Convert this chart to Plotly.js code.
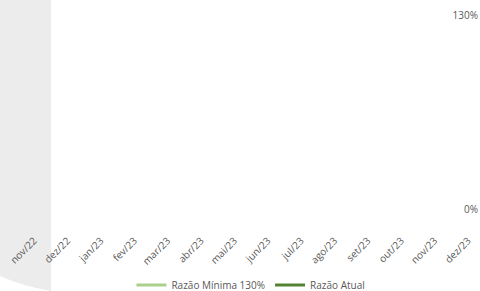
<!DOCTYPE html>
<html>
<head>
<meta charset="utf-8">
<script src="https://cdn.plot.ly/plotly-3.0.1.min.js"></script>
<style>html,body{margin:0;padding:0;background:#fff;}#chart{width:480px;height:291px;}</style>
</head>
<body>
<div id="chart"></div>
<script>
// Categories (months)
var months = ["nov/22","dez/22","jan/23","fev/23","mar/23","abr/23","mai/23","jun/23","jul/23","ago/23","set/23","out/23","nov/23","dez/23"];
// Series values (no values shown in the reference)
var razaoMinima = [null,null,null,null,null,null,null,null,null,null,null,null,null,null];
var razaoAtual  = [null,null,null,null,null,null,null,null,null,null,null,null,null,null];
// Y tick values / labels
var yTickVals = [0, 1.3];
var yTickText = ["0%", "130%"];

var W = 480, H = 291;
var mL = 0, mR = 2, mT = 5, mB = 59;
var pw = W - mL - mR, ph = H - mT - mB;
function px(x){ return (x - mL) / pw; }
function py(y){ return (H - mB - y) / ph; }

var greyPath = "M " + px(0) + "," + py(0) +
  " L " + px(51) + "," + py(0) +
  " L " + px(51) + "," + py(291) +
  " Q " + px(22) + "," + py(286) + " " + px(0) + "," + py(276) + " Z";

var traces = [
  {x: months, y: razaoMinima, type: "scatter", mode: "lines", name: "Razão Mínima 130%",
   line: {color: "#a9d18e", width: 3}},
  {x: months, y: razaoAtual, type: "scatter", mode: "lines", name: "Razão Atual",
   line: {color: "#548235", width: 3}}
];

var layout = {
  width: W, height: H,
  margin: {l: mL, r: mR, t: mT, b: mB, pad: 0, autoexpand: false},
  paper_bgcolor: "#ffffff",
  plot_bgcolor: "rgba(0,0,0,0)",
  font: {family: "Open Sans, Liberation Sans, sans-serif", size: 10, color: "#595959"},
  showlegend: true,
  legend: {orientation: "h", x: 0.525, xanchor: "center", yref: "container", y: (H - 285) / H,
           yanchor: "middle", font: {size: 10, color: "#595959"}, bgcolor: "rgba(0,0,0,0)"},
  xaxis: {type: "category", categoryorder: "array", categoryarray: months,
          range: [-1.02, 13.30], tickangle: -45, showgrid: false, zeroline: false,
          showline: false, ticks: "", tickfont: {size: 10, color: "#595959"}, fixedrange: true},
  yaxis: {range: [-0.154, 1.367], tickvals: yTickVals, ticktext: yTickText, side: "left",
          anchor: "free", position: 1, showgrid: false, zeroline: false, showline: false,
          ticks: "", tickfont: {size: 10, color: "#595959"}, fixedrange: true},
  shapes: [{type: "path", xref: "paper", yref: "paper", path: greyPath,
            fillcolor: "#ececec", line: {width: 0}, layer: "below"}]
};

Plotly.newPlot("chart", traces, layout, {displayModeBar: false, staticPlot: true});
</script>
</body>
</html>
